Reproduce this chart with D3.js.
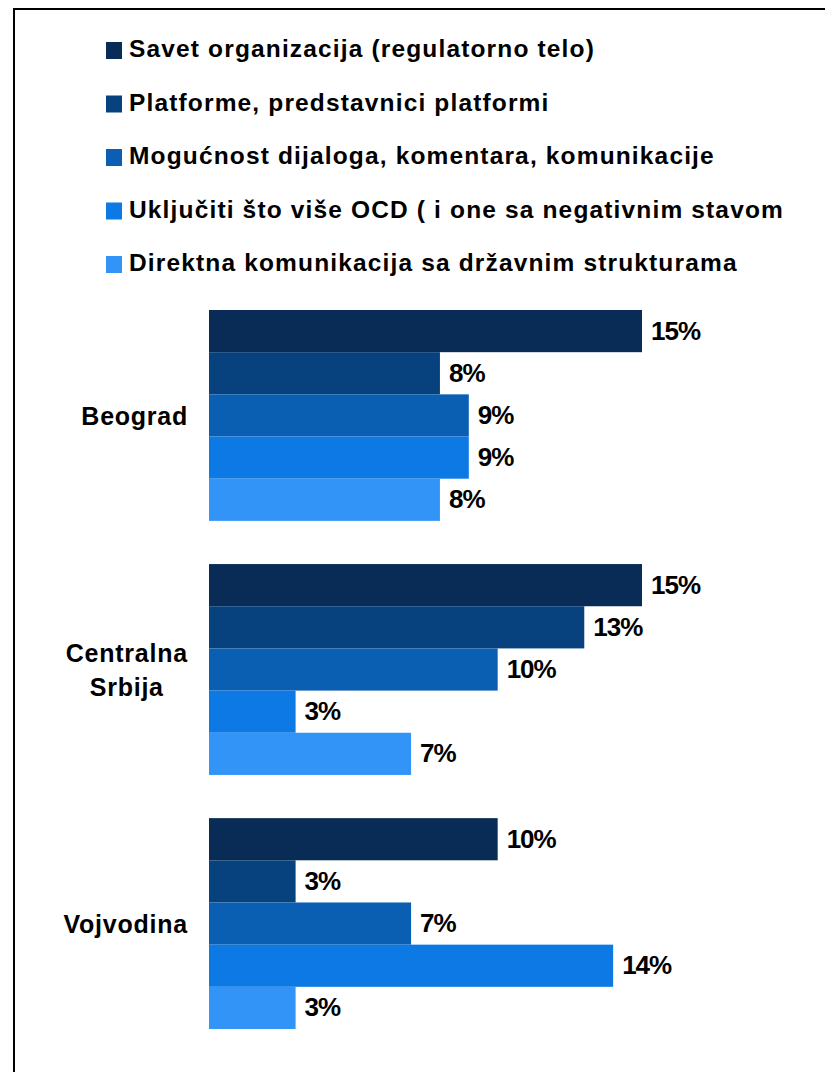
<!DOCTYPE html>
<meta charset="utf-8">
<script src="https://d3js.org/d3.v7.min.js"></script>
<style>
  body { margin: 0; background: #fff; }
  text { font-family: "Liberation Sans", Arial, sans-serif; font-weight: bold; fill: #000; }
</style>
<div id="chart"></div>
<script>

// regions (top to bottom), lines of each label
var regions = ["Beograd", "Centralna Srbija", "Vojvodina"];
var regionLines = [["Beograd"], ["Centralna", "Srbija"], ["Vojvodina"]];

// series (legend order = bar order within a group)
var series = [
  "Savet organizacija (regulatorno telo)",
  "Platforme, predstavnici platformi",
  "Mogućnost dijaloga, komentara, komunikacije",
  "Uključiti što više OCD ( i one sa negativnim stavom",
  "Direktna komunikacija sa državnim strukturama"
];
var colors = ["#082c56", "#08427e", "#0a5fb3", "#0c79e4", "#3194f6"];

// values in %, one array per series, in region order
var savet     = [15, 15, 10];
var platforme = [8, 13, 3];
var mogucnost = [9, 10, 7];
var ukljuciti = [9, 3, 14];
var direktna  = [8, 7, 3];
var values = [savet, platforme, mogucnost, ukljuciti, direktna];

var width = 825, height = 1072;

var svg = d3.select("#chart")
  .append("svg")
    .attr("width", width)
    .attr("height", height);

// outer frame
svg.append("rect")
  .attr("x", 14).attr("y", 9)
  .attr("width", 840).attr("height", 1100)
  .attr("fill", "none")
  .attr("stroke", "#000")
  .attr("stroke-width", 2);

// scales
var x = d3.scaleLinear()
  .domain([0, 15])
  .range([209, 642]);

var y0 = d3.scaleBand()
  .domain(regions)
  .range([310, 1029])
  .paddingInner(0.17)
  .paddingOuter(0);

var y1 = d3.scaleBand()
  .domain(d3.range(series.length))
  .range([0, y0.bandwidth()]);

// legend
var legend = svg.append("g")
  .selectAll("g")
  .data(series)
  .enter()
  .append("g")
    .attr("transform", function(d, i) { return "translate(106," + (42 + i * 53.5) + ")"; });

legend.append("rect")
  .attr("width", 16)
  .attr("height", 17)
  .attr("fill", function(d, i) { return colors[i]; });

legend.append("text")
  .attr("x", 23)
  .attr("y", 15)
  .style("font-size", "24.5px")
  .style("letter-spacing", "1.15px")
  .text(function(d) { return d; });

// groups
var groups = svg.append("g")
  .selectAll("g")
  .data(regions)
  .enter()
  .append("g")
    .attr("transform", function(d) { return "translate(0," + y0(d) + ")"; });

groups.selectAll("rect")
  .data(function(d, r) { return values.map(function(v, s) { return {s: s, value: v[r]}; }); })
  .enter()
  .append("rect")
    .attr("x", x(0))
    .attr("y", function(d) { return y1(d.s); })
    .attr("width", function(d) { return x(d.value) - x(0); })
    .attr("height", y1.bandwidth())
    .attr("fill", function(d) { return colors[d.s]; });

groups.selectAll("text.val")
  .data(function(d, r) { return values.map(function(v, s) { return {s: s, value: v[r]}; }); })
  .enter()
  .append("text")
    .attr("class", "val")
    .attr("x", function(d) { return x(d.value) + 9; })
    .attr("y", function(d) { return y1(d.s) + y1.bandwidth() / 2 + 8.5; })
    .style("font-size", "26px")
    .style("letter-spacing", "-1px")
    .text(function(d) { return d.value + "%"; });

// category labels
groups.each(function(d, r) {
  var lines = regionLines[r];
  var g = d3.select(this);
  var mid = y0.bandwidth() / 2;
  var lh = 33.5;
  var t = g.append("text")
    .attr("text-anchor", "middle")
    .style("font-size", "25px")
    .style("letter-spacing", "0.75px");
  lines.forEach(function(line, i) {
    t.append("tspan")
      .attr("x", 126)
      .attr("y", mid + 9.5 + (i - (lines.length - 1) / 2) * lh)
      .text(line);
  });
  // right-align the block at x=188
  var bb = t.node().getBBox();
  t.selectAll("tspan").attr("x", 188 - bb.width / 2);
});

</script>
